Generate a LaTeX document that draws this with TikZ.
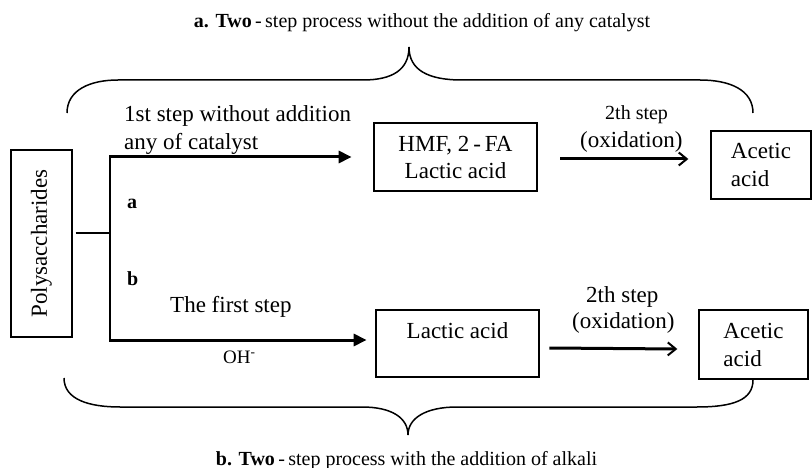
\documentclass[tikz,border=0pt]{standalone}
\usepackage{fontspec}
\setmainfont{Liberation Serif}
\usetikzlibrary{arrows.meta,calc}
\begin{document}
\begin{tikzpicture}[x=1pt,y=-1pt,
  txt/.style={inner sep=0pt,font=\fontsize{23}{27}\selectfont},
  ttl/.style={inner sep=0pt,font=\fontsize{20}{24}\selectfont},
  thinbox/.style={draw,line width=1.3pt,inner sep=0pt,font=\fontsize{23}{28}\selectfont},
  thickbox/.style={draw,line width=2.7pt,inner sep=0pt,align=center,font=\fontsize{23}{27}\selectfont},
  firstarrow/.style={line width=3pt,-{Triangle[length=13pt,width=12pt]}},
  secondarrow/.style={line width=3pt,-{Straight Barb[length=8pt,width=13pt,line width=2pt]}},
  plainline/.style={line width=1.5pt},
  brace/.style={line width=1.5pt}]
\fill[white] (0,0) rectangle (812,468);
\useasboundingbox (0,0) rectangle (812,468);

% titles
\node[ttl,anchor=base] (ta) at (422,28) {{\bfseries a.} {\bfseries Two}\,-\,step process without the addition of any catalyst};
\node[ttl,anchor=base] (tb) at (406.5,465) {{\bfseries b.} {\bfseries Two}\,-\,step process with the addition of alkali};

% braces
\draw[brace] (67,113) .. controls (67,90) and (90,80) .. (118,80) -- (363,80)
  .. controls (392,80) and (409,70) .. (409,47)
  .. controls (409,70) and (428,80) .. (462,80) -- (700,80)
  .. controls (730,80) and (753,90) .. (753,113);
\draw[brace] (64,378) .. controls (64,400) and (90,407) .. (120,407) -- (362,407)
  .. controls (392,407) and (408,418) .. (408,435)
  .. controls (408,418) and (426,407) .. (457,407) -- (697,407)
  .. controls (733,407) and (753,400) .. (753,380);

% boxes
\node[thinbox,minimum width=61pt,minimum height=187pt] (poly) at (41.5,243.5) {\rotatebox{90}{Polysaccharides}};
\node[thickbox,minimum width=163pt,minimum height=68pt] (hmf) at (455.5,157) {HMF, 2\,-\,FA\\Lactic acid};
\node[thickbox,minimum width=163pt,minimum height=67pt] (lac) at (457.5,343.5) {Lactic acid\\[-2pt]~};
\node[thinbox,align=left,minimum width=100pt,minimum height=68pt] (ac1) at (761,165) {Acetic\\acid};
\node[thinbox,align=left,minimum width=109pt,minimum height=69pt] (ac2) at (753.5,344.5) {Acetic\\acid};

% junction
\coordinate (jt) at (110,157);
\coordinate (jm) at (110,233);
\coordinate (jb) at (110,340);
\draw[plainline] ($(jm -| poly.east)+(3,0)$) -- (jm);
\draw[plainline] (jt) -- (jb);

% arrows
\draw[firstarrow] ([xshift=-0.75pt]jt) -- ($(jt -| hmf.west)+(-21,0)$);
\draw[firstarrow] ([xshift=-0.75pt]jb) -- ($(jb -| lac.west)+(-8,0)$);
\draw[secondarrow] ($(hmf.east)+(22,2)$) -- ($(ac1.west)+(-22,-6)$);
\draw[secondarrow] ($(lac.east)+(9,4.5)$) -- ($(ac2.west)+(-21,4.5)$);

% labels
\node[txt,anchor=base west] (l1a) at (124,122) {1st step without addition};
\node[txt,anchor=base west] (l1b) at (124,150) {any of catalyst};
\node[ttl,anchor=base west] (la) at (127,208) {\bfseries a};
\node[ttl,anchor=base west] (lb) at (127,285) {\bfseries b};
\node[txt,anchor=base west] (lfs) at (170,312) {The first step};
\node[inner sep=0pt,anchor=base west,font=\fontsize{19}{22}\selectfont] (oh) at (223,363) {OH\textsuperscript{-}};
\node[inner sep=0pt,anchor=base west,font=\fontsize{20}{22}\selectfont] (s2a) at (605,120) {2th step};
\node[txt,anchor=base west] (oxa) at (580,148) {(oxidation)};
\node[txt,anchor=base west] (s2b) at (586,302) {2th step};
\node[txt,anchor=base west] (oxb) at (572,328) {(oxidation)};
\end{tikzpicture}
\end{document}
